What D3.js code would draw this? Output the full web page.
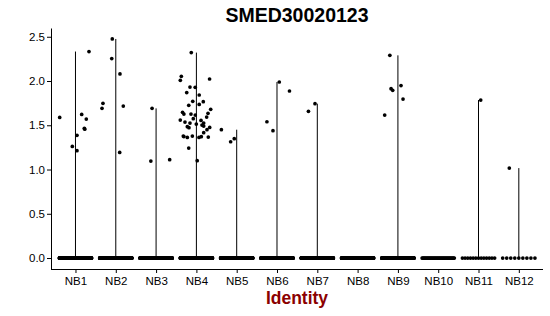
<!DOCTYPE html>
<html>
<head>
<meta charset="utf-8">
<script src="https://cdn.jsdelivr.net/npm/d3@7.9.0/dist/d3.min.js"></script>
<style>
  body { margin: 0; background: #fff; }
  svg text { font-family: "Liberation Sans", Arial, sans-serif; }
</style>
</head>
<body>
<svg id="chart" width="550" height="316"></svg>
<script>
const categories = ["NB1", "NB2", "NB3", "NB4", "NB5", "NB6", "NB7", "NB8", "NB9", "NB10", "NB11", "NB12"];
const yTicks = [0, 0.5, 1, 1.5, 2, 2.5];

// cells with zero expression per identity
const zeroCounts = [400, 400, 400, 400, 400, 400, 400, 300, 400, 40, 13, 9];

// non-zero cells: [jitter, expression]
const NB1 = [[0.335, 2.333], [-0.392, 1.589], [0.154, 1.623], [0.268, 1.57], [0.22, 1.466], [0.23, 1.456], [0.037, 1.386], [-0.079, 1.261], [0.037, 1.213]];
const NB2 = [[-0.087, 2.475], [-0.1, 2.253], [0.104, 2.08], [-0.318, 1.748], [-0.342, 1.691], [0.186, 1.717], [0.097, 1.193]];
const NB3 = [[-0.1, 1.691], [-0.13, 1.095], [0.337, 1.111]];
const NB4 = [[-0.127, 2.321], [-0.374, 2.053], [-0.399, 2.008], [0.327, 2.023], [-0.159, 1.932], [-0.03, 1.929],
  [-0.24, 1.869], [0.07, 1.842], [-0.09, 1.77], [0.171, 1.767], [0.07, 1.736], [-0.19, 1.725], [0.355, 1.68],
  [-0.343, 1.646], [-0.31, 1.627], [-0.134, 1.627], [-0.027, 1.615], [0.288, 1.635], [0.255, 1.593], [-0.4, 1.559],
  [-0.077, 1.575], [-0.283, 1.536], [-0.159, 1.525], [-0.002, 1.514], [0.115, 1.555], [0.181, 1.525], [-0.225, 1.484],
  [-0.184, 1.473], [0.139, 1.502], [0.181, 1.491], [0.33, 1.476], [0.263, 1.45], [0.181, 1.416], [-0.325, 1.378],
  [-0.31, 1.372], [-0.225, 1.363], [-0.1, 1.378], [0.065, 1.363], [0.122, 1.371], [0.295, 1.367], [-0.19, 1.242], [0.02, 1.1]];
const NB5 = [[-0.38, 1.45], [-0.15, 1.314], [-0.06, 1.348]];
const NB6 = [[-0.25, 1.54], [-0.1, 1.439], [0.057, 1.989], [0.31, 1.887]];
const NB7 = [[-0.22, 1.657], [-0.057, 1.744]];
const NB8 = [];
const NB9 = [[-0.2, 2.29], [-0.17, 1.914], [-0.129, 1.895], [0.077, 1.948], [0.127, 1.796], [-0.328, 1.615]];
const NB10 = [];
const NB11 = [[0.055, 1.785]];
const NB12 = [[-0.236, 1.016]];
const nonZero = [NB1, NB2, NB3, NB4, NB5, NB6, NB7, NB8, NB9, NB10, NB11, NB12];

const svg = d3.select("#chart");
const padLeft = 51, padRight = 543, padTop = 28, padBottom = 269;

const x = d3.scalePoint().domain(categories).range([padLeft + 0.3, padRight]).padding(0.6);
const band = x.step();
const y = d3.scaleLinear().domain([-0.124, 2.599]).range([padBottom, padTop]);

// violins (collapse to a line from 0 to the max value)
categories.forEach((c, i) => {
  let maxVal = d3.max(nonZero[i], (d) => d[1]);
  if (!maxVal) return;
  svg.append("line")
    .attr("x1", x(c)).attr("x2", x(c))
    .attr("y1", y(0)).attr("y2", y(maxVal))
    .attr("stroke", "#000")
    .attr("stroke-width", 1);
});

// points
const pts = svg.append("g");
const r = 1.85;
categories.forEach((c, i) => {
  let n = zeroCounts[i];
  let zeros = d3.range(n).map((k) => (n === 1 ? 0 : -0.4 + (0.8 * k) / (n - 1)));
  zeros.forEach((j) => {
    pts.append("circle").attr("cx", x(c) + j * band).attr("cy", y(0)).attr("r", r).attr("fill", "#000");
  });
  nonZero[i].forEach(([j, v]) => {
    pts.append("circle").attr("cx", x(c) + j * band).attr("cy", y(v)).attr("r", r).attr("fill", "#000");
  });
});

// axes
const yAxis = svg.append("g")
  .attr("transform", `translate(${padLeft},0)`)
  .call(d3.axisLeft(y).tickValues(yTicks).tickFormat(d3.format(".1f")).tickSize(4).tickSizeOuter(0).tickPadding(2));
const xAxis = svg.append("g")
  .attr("transform", `translate(0,${padBottom})`)
  .call(d3.axisBottom(x).tickSize(4).tickSizeOuter(0).tickPadding(4));

[yAxis, xAxis].forEach((g) => {
  g.selectAll("text").attr("font-size", 11.5).attr("fill", "#000").attr("font-family", "Liberation Sans, Arial, sans-serif");
  g.selectAll("line,path").attr("stroke", "#000");
});
xAxis.select(".domain").attr("d", `M${padLeft},0.5H${padRight}`);

svg.append("text")
  .attr("x", (padLeft + padRight) / 2).attr("y", 22)
  .attr("text-anchor", "middle")
  .attr("font-weight", "bold").attr("font-size", 19.5)
  .text("SMED30020123");

svg.append("text")
  .attr("x", (padLeft + padRight) / 2).attr("y", 304)
  .attr("text-anchor", "middle")
  .attr("font-weight", "bold").attr("font-size", 17.5)
  .attr("fill", "#8b0000")
  .text("Identity");
</script>
</body>
</html>
